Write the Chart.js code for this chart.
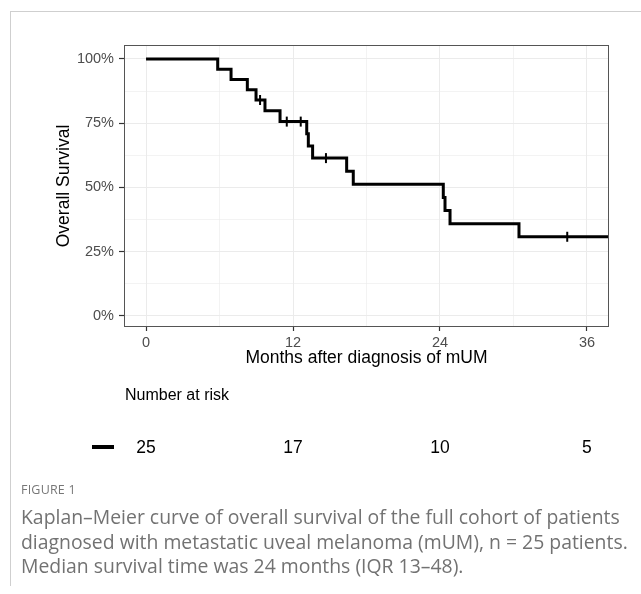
<!DOCTYPE html>
<html>
<head>
<meta charset="utf-8">
<script src="https://cdn.jsdelivr.net/npm/chart.js@4.4.1/dist/chart.umd.min.js"></script>
<style>
  html, body { margin: 0; padding: 0; background: #fff; }
  #wrap { position: relative; width: 641px; height: 594px; overflow: hidden; }
  #frame { position: absolute; left: 10px; top: 11px; width: 631px; height: 574px;
           border-top: 1px solid #cfcfcf; border-left: 1px solid #cfcfcf; }
  #chart { position: absolute; left: 0; top: 0; }
  #figlabel { position: absolute; left: 21px; top: 481px; font: 12.5px "Open Sans", sans-serif;
              color: #777; letter-spacing: 0.2px; }
  #caption { position: absolute; left: 21px; top: 505px; width: 620px; white-space: nowrap;
             font: 19.4px/24.5px "Open Sans", sans-serif; color: #727272; }
</style>
</head>
<body>
<div id="wrap">
  <div id="frame"></div>
  <canvas id="chart" width="641" height="594"></canvas>
  <div id="figlabel">FIGURE 1</div>
  <div id="caption">Kaplan–Meier curve of overall survival of the full cohort of patients<br>diagnosed with metastatic uveal melanoma (mUM), n = 25 patients.<br>Median survival time was 24 months (IQR 13–48).</div>
</div>
<script>
// survival curve (months, % surviving after each step)
var stepTimes = [0, 5.85, 6.94, 8.27, 8.98, 9.71, 10.94, 13.12, 13.25, 13.6, 16.38, 16.92, 24.27, 24.41, 24.82, 30.45, 37.8];
var stepSurv  = [100, 96, 92, 88, 84, 79.8, 75.6, 70.9, 66.1, 61.4, 56.3, 51.2, 46.1, 41.0, 35.9, 30.8, 30.8];

// censored observations
var censorTimes = [9.31, 11.49, 12.63, 14.69, 34.39];
var censorSurv  = [84, 75.6, 75.6, 61.4, 30.8];

// number at risk table
var riskTimes = [0, 12, 24, 36];
var riskCounts = [25, 17, 10, 5];

var xTicks = [0, 6, 12, 18, 24, 30, 36];
var yTicks = [0, 12.5, 25, 37.5, 50, 62.5, 75, 87.5, 100];

var curve = stepTimes.map(function(t, i) { return {x: t, y: stepSurv[i]}; });
var censors = censorTimes.map(function(t, i) { return {x: t, y: censorSurv[i]}; });

var isMajorX = function(v) { return v % 12 === 0; };
var isMajorY = function(v) { return v % 25 === 0; };

var riskTable = {
  id: 'riskTable',
  afterDatasetsDraw: function(chart) {
    var ctx = chart.ctx, a = chart.chartArea;
    ctx.save();
    ctx.strokeStyle = '#555';
    ctx.lineWidth = 1;
    ctx.strokeRect(a.left + 0.5, a.top + 0.5, a.right - a.left - 1, a.bottom - a.top - 1);
    ctx.restore();
  },
  afterDraw: function(chart) {
    var ctx = chart.ctx, xs = chart.scales.x;
    ctx.save();
    ctx.fillStyle = '#000';
    ctx.font = '16px "Liberation Sans", Arial, sans-serif';
    ctx.textAlign = 'left';
    ctx.textBaseline = 'middle';
    ctx.fillText('Number at risk', 125, 396);
    ctx.fillRect(92, 445, 22, 4);
    ctx.font = '17.5px "Liberation Sans", Arial, sans-serif';
    ctx.textAlign = 'center';
    for (var i = 0; i < riskTimes.length; i++) {
      ctx.fillText(String(riskCounts[i]), xs.getPixelForValue(riskTimes[i]), 448);
    }
    ctx.restore();
  }
};

var ctx = document.getElementById('chart').getContext('2d');
var chart = new Chart(ctx, {
  type: 'line',
  data: {
    datasets: [{
      label: 'All',
      data: curve,
      stepped: true,
      borderColor: '#000',
      borderWidth: 3,
      pointRadius: 0,
      fill: false
    }, {
      label: 'Censored',
      type: 'scatter',
      data: censors,
      pointStyle: 'line',
      rotation: 90,
      radius: 5,
      borderColor: '#000',
      borderWidth: 2
    }]
  },
  options: {
    responsive: false,
    animation: false,
    layout: { padding: { left: 0, right: 32, top: 45, bottom: 222 } },
    plugins: { legend: { display: false }, tooltip: { enabled: false } },
    scales: {
      x: {
        type: 'linear',
        min: -1.8,
        max: 37.8,
        afterFit: function(s) { s.height = 45; },
        afterBuildTicks: function(s) { s.ticks = xTicks.map(function(v) { return {value: v}; }); },
        border: { display: false },
        grid: {
          color: '#ebebeb',
          lineWidth: function(c) { return isMajorX(c.tick.value) ? 1 : 0.6; },
          tickColor: function(c) { return isMajorX(c.tick.value) ? '#333' : 'rgba(0,0,0,0)'; },
          tickLength: 4,
          tickWidth: 1.2
        },
        ticks: {
          color: '#4d4d4d',
          font: { family: '"Liberation Sans", Arial, sans-serif', size: 14.5 },
          padding: 3,
          maxRotation: 0,
          autoSkip: false,
          callback: function(v) { return isMajorX(v) ? String(v) : ''; }
        },
        title: {
          display: true,
          text: 'Months after diagnosis of mUM',
          color: '#000',
          font: { family: '"Liberation Sans", Arial, sans-serif', size: 17.5 },
          padding: { top: 0, bottom: 3.5 }
        }
      },
      y: {
        min: -4.3,
        max: 105.4,
        afterFit: function(s) { s.width = 124; },
        afterBuildTicks: function(s) { s.ticks = yTicks.map(function(v) { return {value: v}; }); },
        border: { display: false },
        grid: {
          color: '#ebebeb',
          lineWidth: function(c) { return isMajorY(c.tick.value) ? 1 : 0.6; },
          tickColor: function(c) { return isMajorY(c.tick.value) ? '#333' : 'rgba(0,0,0,0)'; },
          tickLength: 5,
          tickWidth: 1.2
        },
        ticks: {
          color: '#4d4d4d',
          font: { family: '"Liberation Sans", Arial, sans-serif', size: 14.5 },
          padding: 5,
          autoSkip: false,
          callback: function(v) { return isMajorY(v) ? v + '%' : ''; }
        },
        title: {
          display: true,
          text: 'Overall Survival',
          color: '#000',
          font: { family: '"Liberation Sans", Arial, sans-serif', size: 17.5 },
          padding: { top: 54, bottom: 0 }
        }
      }
    }
  },
  plugins: [riskTable]
});
</script>
</body>
</html>
